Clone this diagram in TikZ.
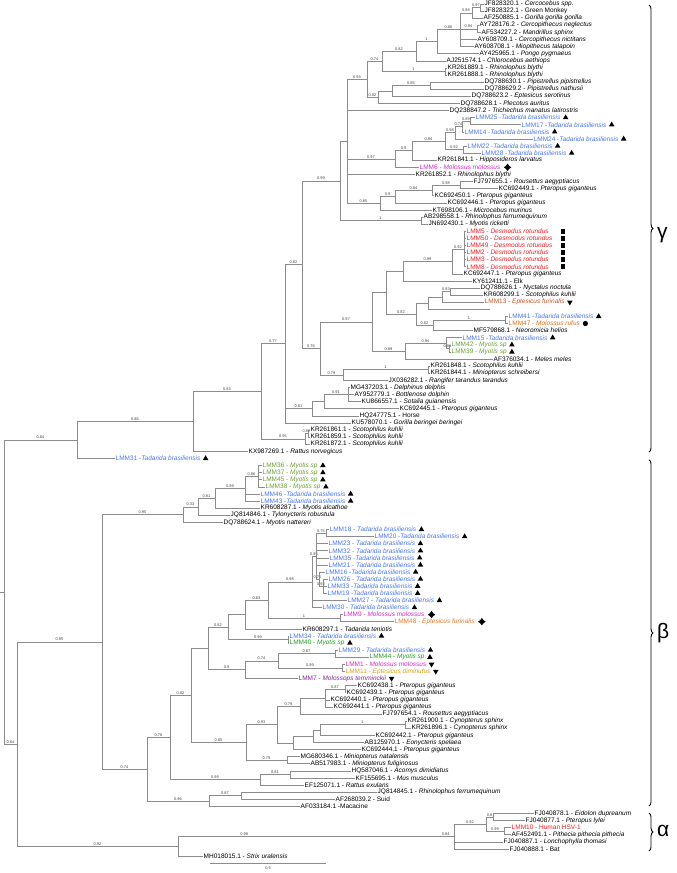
\documentclass[tikz,border=0pt]{standalone}
\usepackage{fontspec}
\setmainfont{Liberation Sans}
\usetikzlibrary{shapes.geometric,decorations.pathreplacing,positioning}

\definecolor{tadblue}{RGB}{72,118,232}
\definecolor{desred}{RGB}{236,32,36}
\definecolor{molmag}{RGB}{214,38,200}
\definecolor{eptbrown}{RGB}{196,84,40}
\definecolor{eptorange}{RGB}{226,122,44}
\definecolor{rufusorange}{RGB}{222,112,24}
\definecolor{myogreen}{RGB}{104,160,52}
\definecolor{myogreenb}{RGB}{34,156,34}
\definecolor{dimgold}{RGB}{212,160,22}
\definecolor{tempurple}{RGB}{128,40,148}

\tikzset
{
    leaf/.style     = {anchor=west, inner sep=0.5pt, font=\fontsize{6.5}{7}\selectfont},
    branch/.style   = {draw=black!45, line width=0.55pt},
    tree/.style     = {to path={|- (\tikztotarget) \tikztonodes}},
    sup/.style      = {pos=0.75, above, inner sep=0.6pt, font=\fontsize{3.9}{4}\selectfont, text=black!75},
    uptri/.style    = {regular polygon, regular polygon sides=3, fill=black, inner sep=0pt, minimum size=6.4pt},
    downtri/.style  = {uptri, shape border rotate=180},
    sqmark/.style   = {rectangle, fill=black, inner sep=0pt, minimum size=4.8pt},
    dotmark/.style  = {circle, fill=black, inner sep=0pt, minimum size=5.2pt},
    starmark/.style = {star, star points=4, star point ratio=1.7, fill=black, inner sep=0pt, minimum size=7.5pt},
    clade/.style    = {decorate, decoration={brace, amplitude=4pt}, line width=0.9pt},
    greek/.style    = {anchor=west, inner sep=0pt, font=\fontsize{21}{21}\selectfont}
}

\begin{document}
\begin{tikzpicture}[x=1pt, y=-7.1pt]
   \newcommand\TBRA{\textit{Tadarida brasiliensis}}
   \newcommand\PGIG{\textit{Pteropus giganteus}}
   \newcommand\DROT{\textit{Desmodus rotundus}}
   \newcommand\MYSP{\textit{Myotis sp}}
   \newcommand\SKUH{\textit{Scotophilus kuhlii}}

   \useasboundingbox (0,0.4366) rectangle (676,123.39);

   % leaves, one per row
   \node[leaf] (l1)   at (484,1)  {JF828320.1 - \textit{Cercocebus spp.}};
   \node[leaf] (l2)   at (484,2)  {JF828322.1 - Green Monkey};
   \node[leaf] (l3)   at (483,3)  {AF250885.1 - \textit{Gorilla gorilla gorilla}};
   \node[leaf] (l4)   at (479,4)  {AY728176.2 - \textit{Cercopithecus neglectus}};
   \node[leaf] (l5)   at (481,5)  {AF534227.2 - \textit{Mandrillus sphinx}};
   \node[leaf] (l6)   at (477,6)  {AY608709.1 - \textit{Cercopithecus nictitans}};
   \node[leaf] (l7)   at (474,7)  {AY608708.1 - \textit{Miopithecus talapoin}};
   \node[leaf] (l8)   at (479,8)  {AY425965.1 - \textit{Pongo pygmaeus}};
   \node[leaf] (l9)   at (446,9)  {AJ251574.1 - \textit{Chlorocebus aethiops}};
   \node[leaf] (l10)  at (447,10) {KR261889.1 - \textit{Rhinolophus blythi}};
   \node[leaf] (l11)  at (447,11) {KR261888.1 - \textit{Rhinolophus blythi}};
   \node[leaf] (l12)  at (484,12) {DQ788630.1 - \textit{Pipistrellus pipistrellus}};
   \node[leaf] (l13)  at (484,13) {DQ788629.2 - \textit{Pipistrellus nathusii}};
   \node[leaf] (l14)  at (471,14) {DQ788623.2 - \textit{Eptesicus serotinus}};
   \node[leaf] (l15)  at (460,15) {DQ788628.1 - \textit{Plecotus auritus}};
   \node[leaf] (l16)  at (449,16) {DQ238847.2 - \textit{Trichechus manatus latirostris}};
   \node[leaf, text=tadblue] (l17) at (475,17) {LMM25 -\TBRA};
   \node[leaf, text=tadblue] (l18) at (521,18) {LMM17 -\TBRA};
   \node[leaf, text=tadblue] (l19) at (464,19) {LMM14 -\TBRA};
   \node[leaf, text=tadblue] (l20) at (533,20) {LMM24 -\TBRA};
   \node[leaf, text=tadblue] (l21) at (467,21) {LMM22 -\TBRA};
   \node[leaf, text=tadblue] (l22) at (481,22) {LMM28 -\TBRA};
   \node[leaf] (l23)  at (437,23) {KR261841.1 - \textit{Hipposideros larvatus}};
   \node[leaf, text=molmag] (l24) at (419,24) {LMM6 - \textit{Molossus molossus}};
   \node[leaf] (l25)  at (415,25) {KR261852.1 - \textit{Rhinolophus blythi}};
   \node[leaf] (l26)  at (473,26) {FJ797655.1 - \textit{Rousettus aegyptiacus}};
   \node[leaf] (l27)  at (498,27) {KC692449.1 - \PGIG};
   \node[leaf] (l28)  at (434,28) {KC692450.1 - \PGIG};
   \node[leaf] (l29)  at (447,29) {KC692446.1 - \PGIG};
   \node[leaf] (l30)  at (432,30) {KT698106.1 - \textit{Microcebus murinus}};
   \node[leaf] (l31)  at (423,31) {AB298558.1 - \textit{Rhinolophus ferrumequinum}};
   \node[leaf] (l32)  at (428,32) {JN692430.1 - \textit{Myotis ricketti}};
   \node[leaf, text=desred] (l33) at (466,33) {LMM5 - \DROT};
   \node[leaf, text=desred] (l34) at (466,34) {LMM50 - \DROT};
   \node[leaf, text=desred] (l35) at (466,35) {LMM49 - \DROT};
   \node[leaf, text=desred] (l36) at (466,36) {LMM2 - \DROT};
   \node[leaf, text=desred] (l37) at (466,37) {LMM3 - \DROT};
   \node[leaf, text=desred] (l38) at (466,38) {LMM8 - \DROT};
   \node[leaf] (l39)  at (463,39) {KC692447.1 - \PGIG};
   \node[leaf] (l40)  at (472,40) {KY612411.1 - Elk};
   \node[leaf] (l41)  at (480,41) {DQ788626.1 - \textit{Nyctalus noctula}};
   \node[leaf] (l42)  at (483,42) {KR608299.1 - \SKUH};
   \node[leaf, text=eptbrown] (l43) at (484,43) {LMM13 - \textit{Eptesicus furinalis}};
   \coordinate (l44)  at (490,44);
   \node[leaf, text=tadblue] (l45) at (508,45) {LMM41 -\TBRA};
   \node[leaf, text=rufusorange] (l46) at (508,46) {LMM47 - \textit{Molossus rufus}};
   \node[leaf] (l47)  at (473,47) {MF579868.1 - \textit{Neoromicia helios}};
   \node[leaf, text=tadblue] (l48) at (462,48) {LMM15 -\TBRA};
   \node[leaf, text=myogreen] (l49) at (451,49) {LMM42 - \MYSP};
   \node[leaf, text=myogreen] (l50) at (451,50) {LMM39 - \MYSP};
   \node[leaf] (l51)  at (493,51) {AF376034.1 - \textit{Meles meles}};
   \node[leaf] (l52)  at (430,52) {KR261848.1 - \SKUH};
   \node[leaf] (l53)  at (430,53) {KR261844.1 - \textit{Miniopterus schreibersi}};
   \node[leaf] (l54)  at (388,54) {JX036282.1 - \textit{Rangifer tarandus tarandus}};
   \node[leaf] (l55)  at (350,55) {MG437203.1 - \textit{Delphinus delphis}};
   \node[leaf] (l56)  at (354,56) {AY952779.1 - \textit{Bottlenose dolphin}};
   \node[leaf] (l57)  at (361,57) {KU866557.1 - \textit{Sotalia guianensis}};
   \node[leaf] (l58)  at (399,58) {KC692445.1 - \PGIG};
   \node[leaf] (l59)  at (359,59) {HQ247775.1 - Horse};
   \node[leaf] (l60)  at (351,60) {KU578070.1 - \textit{Gorilla beringei beringei}};
   \node[leaf] (l61)  at (310,61) {KR261861.1 - \SKUH};
   \node[leaf] (l62)  at (310,62) {KR261859.1 - \SKUH};
   \node[leaf] (l63)  at (310,63) {KR261872.1 - \SKUH};
   \node[leaf] (l64)  at (248,64) {KX987269.1 - \textit{Rattus norvegicus}};
   \node[leaf, text=tadblue] (l65) at (115,65) {LMM31 -\TBRA};
   \node[leaf, text=myogreen] (l66) at (262,66) {LMM36 - \MYSP};
   \node[leaf, text=myogreen] (l67) at (262,67) {LMM37 - \MYSP};
   \node[leaf, text=myogreen] (l68) at (262,68) {LMM45 - \MYSP};
   \node[leaf, text=myogreen] (l69) at (265,69) {LMM38 - \MYSP};
   \node[leaf, text=tadblue] (l70) at (260,70) {LMM46 -\TBRA};
   \node[leaf, text=tadblue] (l71) at (260,71) {LMM43 -\TBRA};
   \node[leaf] (l72)  at (260,72) {KR608287.1 - \textit{Myotis alcathoe}};
   \node[leaf] (l73)  at (230,73) {JQ814846.1 - \textit{Tylonycteris robustula}};
   \node[leaf] (l74)  at (223,74) {DQ788624.1 - \textit{Myotis nattereri}};
   \node[leaf, text=tadblue] (l75) at (329,75) {LMM18 - \TBRA};
   \node[leaf, text=tadblue] (l76) at (374,76) {LMM20 -\TBRA};
   \node[leaf, text=tadblue] (l77) at (328,77) {LMM23 - \TBRA};
   \node[leaf, text=tadblue] (l78) at (328,78) {LMM32 - \TBRA};
   \node[leaf, text=tadblue] (l79) at (329,79) {LMM35 -\TBRA};
   \node[leaf, text=tadblue] (l80) at (328,80) {LMM21 - \TBRA};
   \node[leaf, text=tadblue] (l81) at (325,81) {LMM16 -\TBRA};
   \node[leaf, text=tadblue] (l82) at (328,82) {LMM26 - \TBRA};
   \node[leaf, text=tadblue] (l83) at (327,83) {LMM33 -\TBRA};
   \node[leaf, text=tadblue] (l84) at (327,84) {LMM19 -\TBRA};
   \node[leaf, text=tadblue] (l85) at (347,85) {LMM27 - \TBRA};
   \node[leaf, text=tadblue] (l86) at (322,86) {LMM30 - \TBRA};
   \node[leaf, text=molmag] (l87) at (343,87) {LMM9 - \textit{Molossus molossus}};
   \node[leaf, text=eptorange] (l88) at (394,88) {LMM48 - \textit{Eptesicus furinalis}};
   \node[leaf] (l89)  at (302,89) {KR608297.1 - \textit{Tadarida teniotis}};
   \node[leaf, text=tadblue] (l90) at (289,90) {LMM34 - \TBRA};
   \node[leaf, text=myogreenb] (l91) at (289,91) {LMM40 - \MYSP};
   \node[leaf, text=tadblue] (l92) at (338,92) {LMM29 - \TBRA};
   \node[leaf, text=myogreenb] (l93) at (369,93) {LMM44 - \MYSP};
   \node[leaf, text=molmag] (l94) at (345,94) {LMM1 - \textit{Molossus molossus}};
   \node[leaf, text=dimgold] (l95) at (345,95) {LMM11 - \textit{Eptesicus diminutus}};
   \node[leaf, text=tempurple] (l96) at (298,96) {LMM7 - \textit{Molossops temminckii}};
   \node[leaf] (l97)  at (357,97)  {KC692438.1 - \PGIG};
   \node[leaf] (l98)  at (346,98)  {KC692439.1 - \PGIG};
   \node[leaf] (l99)  at (330,99)  {KC692440.1 - \PGIG};
   \node[leaf] (l100) at (333,100) {KC692441.1 - \PGIG};
   \node[leaf] (l101) at (382,101) {FJ797654.1 - \textit{Rousettus aegyptiacus}};
   \node[leaf] (l102) at (407,102) {KR261900.1 - \textit{Cynopterus sphinx}};
   \node[leaf] (l103) at (411,103) {KR261896.1 - \textit{Cynopterus sphinx}};
   \node[leaf] (l104) at (375,104) {KC692442.1 - \PGIG};
   \node[leaf] (l105) at (364,105) {AB125970.1 - \textit{Eonycteris spelaea}};
   \node[leaf] (l106) at (361,106) {KC692444.1 - \PGIG};
   \node[leaf] (l107) at (300,107) {MG680346.1 - \textit{Miniopterus natalensis}};
   \node[leaf] (l108) at (310,108) {AB517983.1 - \textit{Miniopterus fuliginosus}};
   \node[leaf] (l109) at (351,109) {HQ587046.1 - \textit{Acomys dimidiatus}};
   \node[leaf] (l110) at (355,110) {KF155695.1 - \textit{Mus musculus}};
   \node[leaf] (l111) at (304,111) {EF125071.1 - \textit{Rattus exulans}};
   \node[leaf] (l112) at (377,112) {JQ814845.1 - \textit{Rhinolophus ferrumequinum}};
   \node[leaf] (l113) at (335,113) {AF268039.2 - Suid};
   \node[leaf] (l114) at (300,114) {AF033184.1 -Macacine};
   \node[leaf] (l115) at (534,115) {FJ040878.1 - \textit{Eidolon dupreanum}};
   \node[leaf] (l116) at (525,116) {FJ040877.1 - \textit{Pteropus lylei}};
   \node[leaf, text=desred] (l117) at (511,117) {LMM10 - Human HSV-1};
   \node[leaf] (l118) at (511,118) {AF452491.1 - \textit{Pithecia pithecia pithecia}};
   \node[leaf] (l119) at (503,119) {FJ040887.1 - \textit{Lonchophylla thomasi}};
   \node[leaf] (l120) at (509,120) {FJ040888.1 - Bat};
   \node[leaf] (l121) at (203,121) {MH018015.1 - \textit{Strix uralensis}};

   % host marks
   \foreach \i in {17,18,19,20,21,22,45,48,49,50,65,66,67,68,69,70,71,75,76,77,78,79,80,81,82,83,84,85,86,90,91,92,93}
      \node[uptri, right=2.5pt of l\i] (m\i) {};
   \foreach \i in {43,94,95,96}
      \node[downtri, right=2.5pt of l\i] (m\i) {};
   \foreach \i in {24,87,88}
      \node[starmark, right=2.5pt of l\i] (m\i) {};
   \foreach \i in {33,34,35,36,37,38}
      \node[sqmark] (m\i) at (563,\i) {};
   \node[dotmark, right=2pt of l46] (m46) {};

   % internal nodes
   \coordinate (R0)  at (0,83.81);
   \coordinate (R)   at (4,83.81);
   \coordinate (A)   at (77,62.39);
   \coordinate (B)   at (17,105.23);
   \coordinate (C)   at (193,59.78);
   \coordinate (D)   at (261,55.55);
   \coordinate (s1)  at (285,48.85);
   \coordinate (r1)  at (302,37.7);
   \coordinate (g1)  at (340,25.9);
   \coordinate (e2)  at (347,20.33);
   \coordinate (c1)  at (367,11.6);
   \coordinate (a8)  at (382,9.08);
   \coordinate (a6)  at (416,7.66);
   \coordinate (a5)  at (437,6.31);
   \coordinate (a4)  at (460,4.625);
   \coordinate (a2)  at (472,2.25);
   \coordinate (a1)  at (480,1.5);
   \coordinate (a3)  at (477,4.5);
   \coordinate (a7)  at (445,10.5);
   \coordinate (b3)  at (378,14.125);
   \coordinate (b2)  at (392,13.25);
   \coordinate (b1)  at (430,12.5);
   \coordinate (d7)  at (395,22.83);
   \coordinate (d6)  at (412,21.66);
   \coordinate (d5)  at (445,20.31);
   \coordinate (d3)  at (455,19.125);
   \coordinate (d2)  at (462,18.25);
   \coordinate (d1)  at (470,17.5);
   \coordinate (d4)  at (463,21.5);
   \coordinate (f4)  at (380,29.06);
   \coordinate (f3)  at (395,28.125);
   \coordinate (f2)  at (432,27.25);
   \coordinate (f1)  at (460,26.5);
   \coordinate (w1)  at (421,31.5);
   \coordinate (o1)  at (320,49.51);
   \coordinate (m1)  at (372,45.77);
   \coordinate (k0)  at (386,41.66);
   \coordinate (h2)  at (403,38.625);
   \coordinate (h1b) at (452,37.25);
   \coordinate (h1)  at (464,35.5);
   \coordinate (k1)  at (416,44.69);
   \coordinate (i3)  at (428,43.125);
   \coordinate (i2)  at (442,42.25);
   \coordinate (i1)  at (450,41.5);
   \coordinate (j2)  at (433,46.25);
   \coordinate (j1)  at (505,45.5);
   \coordinate (n3)  at (405,49.875);
   \coordinate (n2)  at (446,48.75);
   \coordinate (n1)  at (449,49.5);
   \coordinate (p2)  at (343,53.25);
   \coordinate (p1)  at (428,52.5);
   \coordinate (u3)  at (312,58);
   \coordinate (u2)  at (324,57);
   \coordinate (u1)  at (348,56);
   \coordinate (v2)  at (305,62.25);
   \coordinate (v1)  at (308,61.5);
   \coordinate (x6)  at (102,90.84);
   \coordinate (x5)  at (183,72.91);
   \coordinate (x4)  at (198,71.81);
   \coordinate (x3)  at (215,70.625);
   \coordinate (x2)  at (245,69.25);
   \coordinate (x1)  at (258,67.5);
   \coordinate (W)   at (147,108.78);
   \coordinate (V2)  at (170,104.3);
   \coordinate (V1)  at (191,98.36);
   \coordinate (z5)  at (208,91.74);
   \coordinate (y10) at (228,88.73);
   \coordinate (y8)  at (245,86.97);
   \coordinate (y7)  at (268,84.94);
   \coordinate (y5)  at (312,82.375);
   \coordinate (y4)  at (316,78.75);
   \coordinate (y1)  at (326,75.5);
   \coordinate (y3)  at (319,82);
   \coordinate (y2)  at (323,83);
   \coordinate (y6)  at (340,87.5);
   \coordinate (y9)  at (288,90.5);
   \coordinate (z4)  at (245,94.75);
   \coordinate (z3)  at (278,93.5);
   \coordinate (z1)  at (335,92.5);
   \coordinate (z2)  at (342,94.5);
   \coordinate (ab2) at (246,104.98);
   \coordinate (aa9) at (277,102.47);
   \coordinate (aa3) at (300,99.875);
   \coordinate (aa2) at (325,98.75);
   \coordinate (aa1) at (345,97.5);
   \coordinate (aa7) at (293,105.06);
   \coordinate (aa6) at (313,104.125);
   \coordinate (aa5) at (320,103.25);
   \coordinate (aa4) at (405,102.5);
   \coordinate (ab1) at (287,107.5);
   \coordinate (ac2) at (260,110.25);
   \coordinate (ac1) at (290,109.5);
   \coordinate (ad2) at (209,113.25);
   \coordinate (ad1) at (241,112.5);
   \coordinate (ae5) at (178,119.625);
   \coordinate (ae4) at (454,118.25);
   \coordinate (ae3) at (486,116.5);
   \coordinate (ae1) at (493,115.5);
   \coordinate (ae2) at (504,117.5);

   % gamma clade
   \path[branch]
      (R0)  edge (R)
      (R)   edge[tree] node[sup] {0.84} (A)
      (R)   edge[tree] node[sup] {0.84} (B)
      (A)   edge[tree] node[sup] {0.86} (C)
      (A)   edge[tree] (l65)
      (C)   edge[tree] node[sup] {0.83} (D)
      (C)   edge[tree] (l64)
      (D)   edge[tree] node[sup] {0.77} (s1)
      (D)   edge[tree] node[sup] {0.95} (v2)
      (v2)  edge[tree] node[sup] {0.82} (v1)
      (v2)  edge[tree] (l63)
      (v1)  edge[tree] (l61)
      (v1)  edge[tree] (l62)
      (s1)  edge[tree] node[sup] {0.82} (r1)
      (s1)  edge[tree] node[sup] {0.81} (u3)
      (s1)  edge[tree] (l60)
      (u3)  edge[tree] (u2)
      (u3)  edge[tree] (l59)
      (u2)  edge[tree] node[sup] {0.91} (u1)
      (u2)  edge[tree] (l58)
      (u1)  edge[tree] (l55)
      (u1)  edge[tree] (l56)
      (u1)  edge[tree] (l57)
      (r1)  edge[tree] node[sup] {0.99} (g1)
      (r1)  edge[tree] node[sup] {0.76} (o1)
      (g1)  edge[tree] (e2)
      (g1)  edge[tree] node[sup] {1} (w1)
      (e2)  edge[tree] node[sup] {0.93} (c1)
      (e2)  edge[tree] (l16)
      (e2)  edge[tree] node[sup] {0.97} (d7)
      (e2)  edge[tree] (l25)
      (e2)  edge[tree] node[sup] {0.85} (f4)
      (c1)  edge[tree] node[sup] {0.74} (a8)
      (c1)  edge[tree] node[sup] {0.82} (b3)
      (a8)  edge[tree] node[sup] {0.82} (a6)
      (a8)  edge[tree] node[sup] {1} (a7)
      (a6)  edge[tree] node[sup] {1} (a5)
      (a6)  edge[tree] (l9)
      (a5)  edge[tree] node[sup] {0.86} (a4)
      (a5)  edge[tree] (l8)
      (a4)  edge[tree] node[sup] {0.88} (a2)
      (a4)  edge[tree] node[sup] {0.94} (a3)
      (a4)  edge[tree] (l6)
      (a4)  edge[tree] (l7)
      (a2)  edge[tree] node[sup] {0.97} (a1)
      (a2)  edge[tree] (l3)
      (a1)  edge[tree] (l1)
      (a1)  edge[tree] (l2)
      (a3)  edge[tree] (l4)
      (a3)  edge[tree] (l5)
      (a7)  edge[tree] (l10)
      (a7)  edge[tree] (l11)
      (b3)  edge[tree] (b2)
      (b3)  edge[tree] (l15)
      (b2)  edge[tree] node[sup] {0.85} (b1)
      (b2)  edge[tree] (l14)
      (b1)  edge[tree] (l12)
      (b1)  edge[tree] (l13)
      (d7)  edge[tree] node[sup] {0.9} (d6)
      (d7)  edge[tree] (l24)
      (d6)  edge[tree] node[sup] {0.94} (d5)
      (d6)  edge[tree] (l23)
      (d5)  edge[tree] node[sup] {0.98} (d3)
      (d5)  edge[tree] node[sup] {0.92} (d4)
      (d3)  edge[tree] node[sup] {0.74} (d2)
      (d3)  edge[tree] (l20)
      (d2)  edge[tree] node[sup] {0.89} (d1)
      (d2)  edge[tree] (l19)
      (d1)  edge[tree] (l17)
      (d1)  edge[tree] (l18)
      (d4)  edge[tree] (l21)
      (d4)  edge[tree] (l22)
      (f4)  edge[tree] node[sup] {0.9} (f3)
      (f4)  edge[tree] (l30)
      (f3)  edge[tree] node[sup] {0.94} (f2)
      (f3)  edge[tree] (l29)
      (f2)  edge[tree] node[sup] {0.98} (f1)
      (f2)  edge[tree] (l28)
      (f1)  edge[tree] (l26)
      (f1)  edge[tree] (l27)
      (w1)  edge[tree] (l31)
      (w1)  edge[tree] (l32)
      (o1)  edge[tree] node[sup] {0.97} (m1)
      (o1)  edge[tree] node[sup] {0.79} (p2)
      (p2)  edge[tree] node[sup] {1} (p1)
      (p2)  edge[tree] (l54)
      (p1)  edge[tree] (l52)
      (p1)  edge[tree] (l53)
      (m1)  edge[tree] (k0)
      (m1)  edge[tree] node[sup] {0.89} (n3)
      (n3)  edge[tree] node[sup] {0.94} (n2)
      (n3)  edge[tree] (l51)
      (n2)  edge[tree] (l48)
      (n2)  edge[tree] node[sup] {0.81} (n1)
      (n1)  edge[tree] (l49)
      (n1)  edge[tree] (l50)
      (k0)  edge[tree] (h2)
      (k0)  edge[tree] node[sup] {0.82} (k1)
      (h2)  edge[tree] node[sup] {0.99} (h1b)
      (h2)  edge[tree] (l40)
      (h1b) edge[tree] node[sup] {0.92} (h1)
      (h1b) edge[tree] (l39)
      (h1)  edge[tree] (l33)
      (h1)  edge[tree] (l34)
      (h1)  edge[tree] (l35)
      (h1)  edge[tree] (l36)
      (h1)  edge[tree] (l37)
      (h1)  edge[tree] (l38)
      (k1)  edge[tree] (i3)
      (k1)  edge[tree] node[sup] {0.82} (j2)
      (i3)  edge[tree] (i2)
      (i3)  edge[tree] (l44)
      (i2)  edge[tree] node[sup] {0.83} (i1)
      (i2)  edge[tree] (l43)
      (i1)  edge[tree] (l41)
      (i1)  edge[tree] (l42)
      (j2)  edge[tree] node[sup] {1} (j1)
      (j2)  edge[tree] (l47)
      (j1)  edge[tree] (l45)
      (j1)  edge[tree] (l46);

   % beta clade
   \path[branch]
      (B)   edge[tree] node[sup] {0.95} (x6)
      (B)   edge[tree] node[sup] {0.92} (ae5)
      (x6)  edge[tree] node[sup] {0.95} (x5)
      (x6)  edge[tree] node[sup] {0.74} (W)
      (x5)  edge[tree] node[sup] {0.33} (x4)
      (x5)  edge[tree] (l74)
      (x4)  edge[tree] node[sup] {0.81} (x3)
      (x4)  edge[tree] (l73)
      (x3)  edge[tree] node[sup] {0.99} (x2)
      (x3)  edge[tree] (l72)
      (x2)  edge[tree] node[sup] {0.86} (x1)
      (x2)  edge[tree] (l70)
      (x2)  edge[tree] (l71)
      (x1)  edge[tree] (l66)
      (x1)  edge[tree] (l67)
      (x1)  edge[tree] (l68)
      (x1)  edge[tree] (l69)
      (W)   edge[tree] node[sup] {0.78} (V2)
      (W)   edge[tree] node[sup] {0.96} (ad2)
      (ad2) edge[tree] node[sup] {0.87} (ad1)
      (ad2) edge[tree] (l114)
      (ad1) edge[tree] (l112)
      (ad1) edge[tree] (l113)
      (V2)  edge[tree] node[sup] {0.82} (V1)
      (V2)  edge[tree] node[sup] {0.99} (ac2)
      (ac2) edge[tree] node[sup] {0.81} (ac1)
      (ac2) edge[tree] (l111)
      (ac1) edge[tree] (l109)
      (ac1) edge[tree] (l110)
      (V1)  edge[tree] (z5)
      (V1)  edge[tree] node[sup] {0.85} (ab2)
      (ab2) edge[tree] node[sup] {0.93} (aa9)
      (ab2) edge[tree] node[sup] {0.79} (ab1)
      (ab1) edge[tree] (l107)
      (ab1) edge[tree] (l108)
      (aa9) edge[tree] node[sup] {0.79} (aa3)
      (aa9) edge[tree] (aa7)
      (aa3) edge[tree] (aa2)
      (aa3) edge[tree] (l101)
      (aa2) edge[tree] node[sup] {0.87} (aa1)
      (aa2) edge[tree] (l99)
      (aa2) edge[tree] (l100)
      (aa1) edge[tree] (l97)
      (aa1) edge[tree] (l98)
      (aa7) edge[tree] (aa6)
      (aa7) edge[tree] (l106)
      (aa6) edge[tree] (aa5)
      (aa6) edge[tree] (l105)
      (aa5) edge[tree] node[sup] {1} (aa4)
      (aa5) edge[tree] (l104)
      (aa4) edge[tree] (l102)
      (aa4) edge[tree] (l103)
      (z5)  edge[tree] node[sup] {0.82} (y10)
      (z5)  edge[tree] node[sup] {0.9} (z4)
      (z4)  edge[tree] node[sup] {0.74} (z3)
      (z4)  edge[tree] (l96)
      (z3)  edge[tree] node[sup] {0.87} (z1)
      (z3)  edge[tree] node[sup] {0.99} (z2)
      (z1)  edge[tree] (l92)
      (z1)  edge[tree] (l93)
      (z2)  edge[tree] (l94)
      (z2)  edge[tree] (l95)
      (y10) edge[tree] (y8)
      (y10) edge[tree] node[sup] {0.99} (y9)
      (y9)  edge[tree] (l90)
      (y9)  edge[tree] (l91)
      (y8)  edge[tree] node[sup] {0.83} (y7)
      (y8)  edge[tree] (l89)
      (y7)  edge[tree] node[sup] {0.98} (y5)
      (y7)  edge[tree] node[sup] {1} (y6)
      (y6)  edge[tree] (l87)
      (y6)  edge[tree] (l88)
      (y5)  edge[tree] node[sup] {0.95} (y4)
      (y5)  edge[tree] (l85)
      (y5)  edge[tree] (l86)
      (y4)  edge[tree] node[sup] {0.75} (y1)
      (y4)  edge[tree] (l77)
      (y4)  edge[tree] (l78)
      (y4)  edge[tree] (l79)
      (y4)  edge[tree] (l80)
      (y4)  edge[tree] node[sup] {0.75} (y3)
      (y1)  edge[tree] (l75)
      (y1)  edge[tree] (l76)
      (y3)  edge[tree] (l81)
      (y3)  edge[tree] node[sup] {0.93} (y2)
      (y2)  edge[tree] (l82)
      (y2)  edge[tree] (l83)
      (y2)  edge[tree] (l84);

   % alpha clade
   \path[branch]
      (ae5) edge[tree] node[sup, pos=0.62] {0.98} node[sup, pos=0.985] {0.84} (ae4)
      (ae5) edge[tree] (l121)
      (ae4) edge[tree] node[sup] {0.92} (ae3)
      (ae4) edge[tree] (l119)
      (ae4) edge[tree] (l120)
      (ae3) edge[tree] node[sup] {0.8} (ae1)
      (ae3) edge[tree] node[sup] {0.99} (ae2)
      (ae1) edge[tree] (l115)
      (ae1) edge[tree] (l116)
      (ae2) edge[tree] (l117)
      (ae2) edge[tree] (l118);

   % scale bar
   \coordinate (sb1) at (210,121.99);
   \coordinate (sb2) at (326,121.99);
   \draw[branch] (sb1) -- (sb2) node[midway, below=0.5pt, font=\fontsize{3.9}{4}\selectfont, text=black!75] {0.5};

   % clade brackets
   \coordinate (gtop) at (649,1.14);
   \coordinate (gbot) at (649,64.1);
   \coordinate (btop) at (649,65.2);
   \coordinate (bbot) at (649,113.96);
   \coordinate (atop) at (649,114.94);
   \coordinate (abot) at (649,120.3);
   \draw[clade] (gtop) -- (gbot);
   \draw[clade] (btop) -- (bbot);
   \draw[clade] (atop) -- (abot);
   \node[greek] (gam) at (657,33.6)  {γ};
   \node[greek] (bet) at (657,89.6)  {β};
   \node[greek] (alp) at (657,117.5) {α};
\end{tikzpicture}
\end{document}
